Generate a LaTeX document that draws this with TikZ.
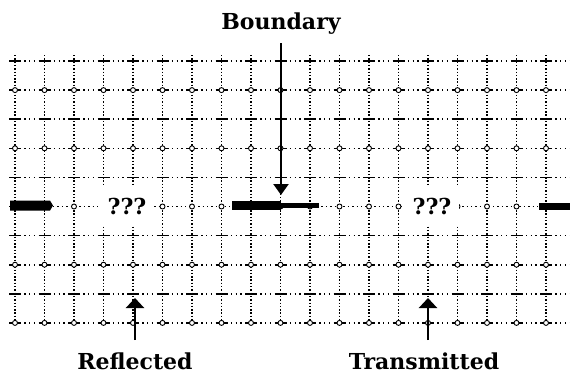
\documentclass[tikz,border=0pt]{standalone}
\usepackage{fontspec}
\setmainfont{DejaVu Serif}
\usetikzlibrary{arrows.meta}
\begin{document}
\begin{tikzpicture}[x=1pt,y=-1pt,
  vline/.style={line width=1.4pt, dash pattern=on 1.4pt off 1.9pt},
  hline/.style={line width=1.6pt, dash pattern=on 12pt off 3.4pt on 1.3pt off 3.4pt on 1.3pt off 3.4pt on 1.3pt off 3.4pt},
  mline/.style={line width=1.4pt, dash pattern=on 1.4pt off 3pt},
  ring/.style={circle, draw, line width=0.9pt, fill=white, inner sep=0pt, minimum size=5pt},
  lbl/.style={font=\fontsize{22}{24}\selectfont\bfseries, inner sep=0pt, anchor=base},
  qlbl/.style={font=\fontsize{22}{24}\selectfont\bfseries, fill=white, minimum width=54pt, minimum height=38pt, inner sep=0pt},
  arr/.style={line width=2.2pt, -{Triangle[width=15pt,length=11pt]}},
  uparr/.style={line width=2.2pt, -{Triangle[width=18pt,length=10pt]}}
]
\useasboundingbox (0,0) rectangle (570,373);
% grid
\foreach \k in {0,...,18} \draw[vline] ({15+29.5*\k},55) -- ({15+29.5*\k},324);
\foreach \j in {0,1,2,3,4,6,7,8,9} \draw[hline] (9,{61+29.1*\j}) -- (570,{61+29.1*\j});
\draw[mline] (9,206.5) -- (570,206.5);
\foreach \j in {1,3,5,7,9}
  \foreach \k in {0,...,18}
    \node[ring] at ({15+29.5*\k},{61+29.1*\j}) {};
% bars
\fill (10,200.5) -- (50,200.5) -- (53,205.5) -- (50,210.5) -- (10,210.5) -- cycle;
\fill (232,200.5) rectangle (281,209.5);
\fill (281,203) rectangle (319,207.5);
\fill (539,202.5) rectangle (570,209.5);
% labels
\node[qlbl] (q1) at (127,206) {???};
\node[qlbl] (q2) at (432,206) {???};
\node[lbl] (bnd) at (281,29) {Boundary};
\node[lbl] (refl) at (135,369) {Reflected};
\node[lbl] (trans) at (424,369) {Transmitted};
% arrows
\coordinate (bstart) at (281,43);
\coordinate (btip) at (281,195);
\draw[arr] (bstart) -- (btip);
\coordinate (rstart) at (135,340);
\coordinate (rtip) at (135,298);
\draw[uparr] (rstart) -- (rtip);
\coordinate (tstart) at (428,340);
\coordinate (ttip) at (428,298);
\draw[uparr] (tstart) -- (ttip);
\end{tikzpicture}
\end{document}
